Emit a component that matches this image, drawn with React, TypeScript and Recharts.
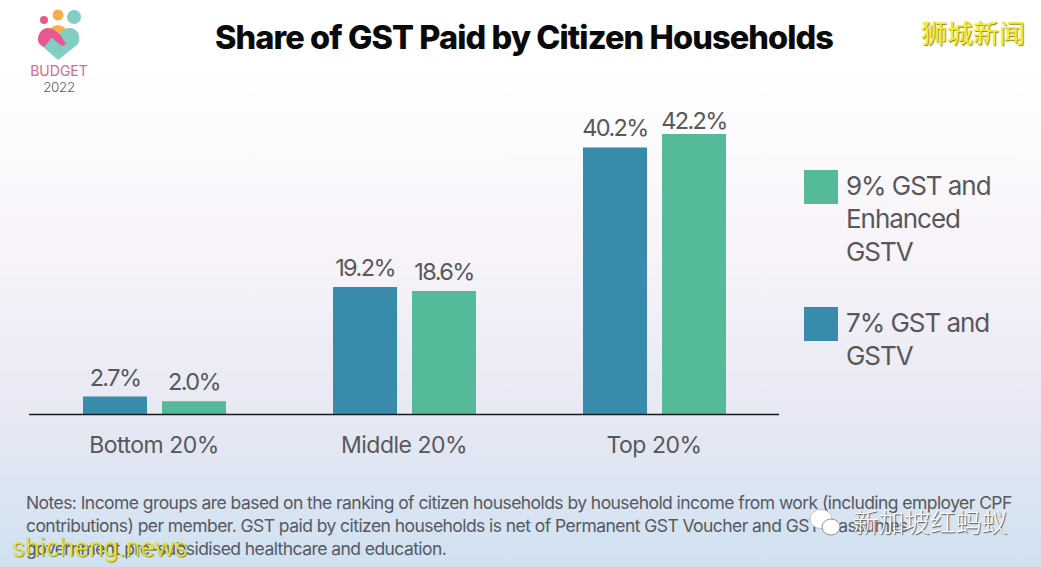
import { Bar, BarChart, LabelList, Legend, XAxis, YAxis } from 'recharts'

const categories = ['Bottom 20%', 'Middle 20%', 'Top 20%']
const gst7 = [2.7, 19.2, 40.2]
const gst9 = [2.0, 18.6, 42.2]
const name7 = '7% GST and GSTV'
const name9 = '9% GST and Enhanced GSTV'

const data = categories.map((name, i) => ({ name, gst7: gst7[i], gst9: gst9[i] }))

const BLUE = '#388bab'
const GREEN = '#55ba9a'
const GREY = '#57585c'
const FONT = 'Inter, "Noto Sans", sans-serif'

const legendItems = [
  { color: GREEN, lines: ['9% GST and', 'Enhanced', 'GSTV'], top: 170 },
  { color: BLUE, lines: ['7% GST and', 'GSTV'], top: 307 },
]

function LegendBox() {
  return (
    <div>
      {legendItems.map((item) => (
        <div key={item.color} style={{ position: 'absolute', left: 804, top: item.top }}>
          <div style={{ position: 'absolute', left: 0, top: 0, width: 34, height: 34, background: item.color }} />
          {item.lines.map((line, i) => (
            <div
              key={line}
              style={{
                position: 'absolute',
                left: 42,
                top: i * 33 - 1,
                fontSize: 26,
                lineHeight: '33px',
                letterSpacing: -1.05,
                whiteSpace: 'nowrap',
                color: GREY,
              }}
            >
              {line}
            </div>
          ))}
        </div>
      ))}
    </div>
  )
}

// the top bar's label sits closer to its bar in the original
const renderLabel = (gap: (index: number) => number) => (props: any) => {
  const { x, y, width, value, index } = props
  return (
    <text
      x={x + width / 2}
      y={y - gap(index)}
      textAnchor="middle"
      fontSize={23.5}
      letterSpacing={-1.6}
      fill={GREY}
      fontFamily={FONT}
    >
      {`${Number(value).toFixed(1)}%`}
    </text>
  )
}

function Logo() {
  return (
    <svg width={110} height={100} style={{ position: 'absolute', left: 0, top: 0 }}>
      <circle cx={44} cy={20} r={4} fill="#e8588f" />
      <circle cx={58} cy={15} r={5.5} fill="#f6b04b" />
      <circle cx={74} cy={17} r={7} fill="#82cdc4" />
      <path d="M49 32 C51 23 65 23 67 32 L58 42 Z" fill="#f6b04b" />
      <path d="M58 60 L42 46 L54 37 L60 33 C64 28 70 27 74 29 C80 32 81 40 77 45 Z" fill="#82cdc4" />
      <path d="M38 40 C38 33 42 28 48 28 C54 28 60 33 66 44 L62 46 L52 38 L44 47 C40 45 38 43 38 40 Z" fill="#e8588f" />
      <text x={59} y={76} textAnchor="middle" fontSize={14} fill="#d7688f" fontFamily={FONT}>BUDGET</text>
      <text x={59} y={92} textAnchor="middle" fontSize={13.5} letterSpacing={-0.4} fontWeight={300} fill="#5f6064" fontFamily={FONT}>2022</text>
    </svg>
  )
}

export default function App() {
  return (
    <div
      style={{
        position: 'absolute',
        left: 0,
        top: 0,
        width: 1041,
        height: 567,
        overflow: 'hidden',
        fontFamily: FONT,
        background: 'linear-gradient(180deg, #ffffff 0%, #ffffff 12%, #f7f3f9 45%, #e6e8f3 75%, #cfe1f1 100%)',
      }}
    >
      <Logo />
      <div
        style={{
          position: 'absolute',
          left: 0,
          width: 1048,
          top: 17,
          textAlign: 'center',
          fontSize: 32.5,
          lineHeight: '42px',
          fontWeight: 800,
          letterSpacing: -0.9,
          color: '#0a0a0a',
        }}
      >
        Share of GST Paid by Citizen Households
      </div>
      <div
        style={{
          position: 'absolute',
          left: 921,
          top: 16,
          fontSize: 26,
          lineHeight: '32px',
          color: '#f2ee2c',
          fontFamily: '"Noto Sans CJK SC"',
          textShadow: '1px 1px 1px #8a8420',
          whiteSpace: 'nowrap',
        }}
      >
        狮城新闻
      </div>

      <BarChart
        width={1041}
        height={567}
        data={data}
        margin={{ top: 115.5, right: 262, bottom: 122.5, left: 29 }}
        barSize={64}
        barGap={15}
        style={{ position: 'absolute', left: 0, top: 0 }}
      >
        <XAxis
          dataKey="name"
          height={30}
          tickLine={false}
          axisLine={{ stroke: '#1a1a1a', strokeWidth: 1.5 }}
          tick={{ fontSize: 23, fill: GREY, fontFamily: FONT, letterSpacing: -0.5 }}
          tickMargin={16}
        />
        <YAxis hide domain={[0, 45]} />
        <Legend content={() => <LegendBox />} wrapperStyle={{ position: 'static' }} />
        <Bar dataKey="gst7" name={name7} fill={BLUE} isAnimationActive={false}>
          <LabelList dataKey="gst7" content={renderLabel(() => 11)} />
        </Bar>
        <Bar dataKey="gst9" name={name9} fill={GREEN} isAnimationActive={false}>
          <LabelList dataKey="gst9" content={renderLabel((i) => (i === 2 ? 5 : 11))} />
        </Bar>
      </BarChart>

      <div
        style={{
          position: 'absolute',
          left: 26,
          top: 491,
          width: 1000,
          fontSize: 17.5,
          lineHeight: '23px',
          letterSpacing: -0.56,
          color: '#56595f',
        }}
      >
        <div style={{ whiteSpace: 'nowrap' }}>
          Notes: Income groups are based on the ranking of citizen households by household income from work (including employer CPF
        </div>
        <div style={{ whiteSpace: 'nowrap' }}>
          contributions) per member. GST paid by citizen households is net of Permanent GST Voucher and GSTV, assumes
        </div>
        <div style={{ whiteSpace: 'nowrap' }}>government pre-subsidised healthcare and education.</div>
      </div>

      <div
        style={{
          position: 'absolute',
          left: 12,
          top: 532,
          fontSize: 25,
          lineHeight: '30px',
          fontWeight: 300,
          color: '#e9e53a',
          textShadow: '1px 1px 1px #8a8420',
          whiteSpace: 'nowrap',
        }}
      >
        shicheng.news
      </div>
      <div
        style={{
          position: 'absolute',
          left: 853,
          top: 503,
          fontSize: 25.7,
          lineHeight: '36px',
          fontWeight: 300,
          color: '#ffffff',
          fontFamily: '"Noto Sans CJK SC"',
          textShadow: '1px 1px 1px #555',
          whiteSpace: 'nowrap',
        }}
      >
        新加坡红蚂蚁
      </div>
      <svg width={40} height={36} style={{ position: 'absolute', left: 806, top: 505 }}>
        <ellipse cx={15} cy={14} rx={11} ry={9.5} fill="#fff" stroke="#aaa" strokeWidth={0.6} />
        <ellipse cx={25} cy={22} rx={9} ry={8} fill="#fff" stroke="#777" strokeWidth={0.8} />
      </svg>
    </div>
  )
}
